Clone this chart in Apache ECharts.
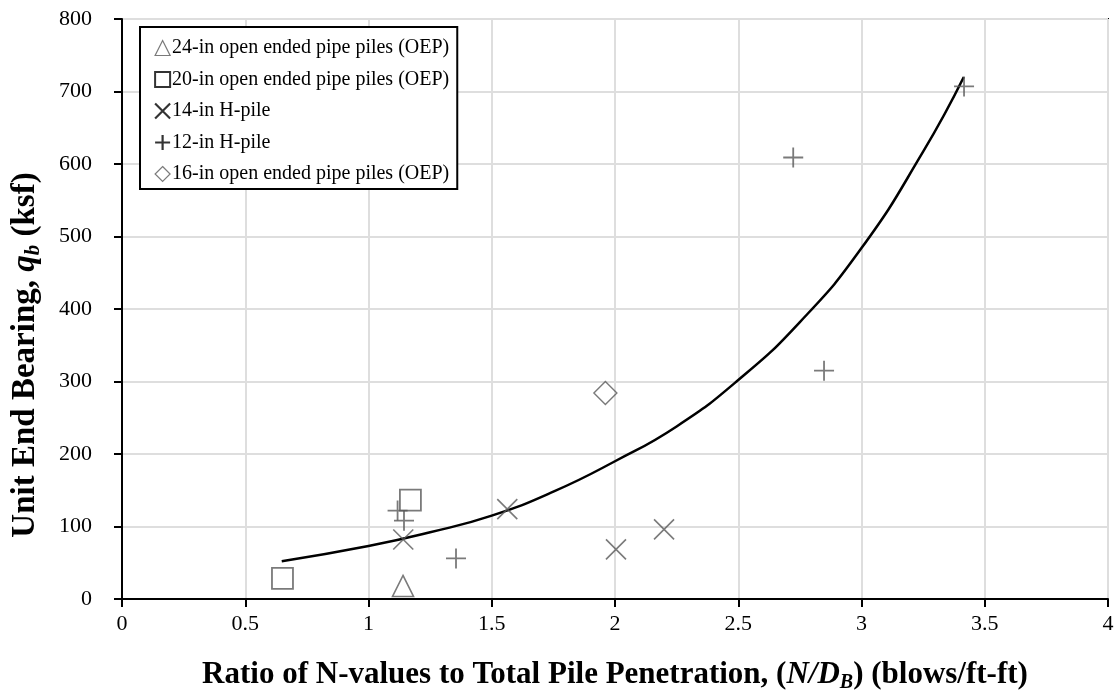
<!DOCTYPE html>
<html>
<head>
<meta charset="utf-8">
<script src="https://cdn.jsdelivr.net/npm/echarts@6/dist/echarts.min.js"></script>
<style>
  html, body { margin: 0; padding: 0; background: #fff; }
  #chart { width: 1119px; height: 695px; }
</style>
</head>
<body>
<div id="chart"></div>
<script>
// Unit end bearing vs. N/D_B ratio, by pile type
const oep24 = [[1.14, 18]];
const oep20 = [[0.651, 28.5], [1.17, 136.5]];
const hpile14 = [[1.141, 82], [1.563, 124], [2.004, 68.5], [2.199, 96]];
const hpile12 = [[1.118, 122], [1.144, 108], [1.355, 56], [2.723, 609], [2.848, 315], [3.416, 707]];
const oep16 = [[1.961, 284]];

// Trend curve, points
const trendX = [0.648, 1.0, 1.25, 1.5, 1.75, 2.0, 2.25, 2.5, 2.75, 3.0, 3.25, 3.415];
const trendY = [52, 73, 92, 115, 148, 190, 238, 302, 382, 484, 617, 720];

const xTicks = [0, 0.5, 1, 1.5, 2, 2.5, 3, 3.5, 4];
const yTicks = [0, 100, 200, 300, 400, 500, 600, 700, 800];

const seriesNames = [
  '24-in open ended pipe piles (OEP)',
  '20-in open ended pipe piles (OEP)',
  '14-in H-pile',
  '12-in H-pile',
  '16-in open ended pipe piles (OEP)'
];

const FONT = '"Liberation Serif", "Times New Roman", serif';
const MARK = '#595959';
const CROSS = 'path://M0,0L10,10M10,0L0,10';
const PLUS = 'path://M5,0L5,10M0,5L10,5';

function hollow(color, w) {
  return { color: 'transparent', borderColor: color, borderWidth: w };
}

function titleRich(size) {
  return {
    b: { fontFamily: FONT, fontSize: size, fontWeight: 'bold', color: '#000' },
    bi: { fontFamily: FONT, fontSize: size, fontWeight: 'bold', fontStyle: 'italic', color: '#000' },
    sub: { fontFamily: FONT, fontSize: Math.round(size * 0.65), fontWeight: 'bold', fontStyle: 'italic', color: '#000', padding: [Math.round(size * 0.5), 0, 0, 0] }
  };
}

const chart = echarts.init(document.getElementById('chart'), null, { renderer: 'canvas' });

chart.setOption({
  backgroundColor: '#fff',
  animation: false,
  grid: {
    left: 122, right: 11, top: 19, bottom: 96,
    outerBoundsMode: 'none',
    containLabel: false,
    show: true, borderColor: '#000', borderWidth: 2, backgroundColor: 'transparent'
  },
  legend: {
    orient: 'vertical',
    left: 140, top: 27,
    padding: [11, 8, 5, 14],
    itemGap: 11.5,
    itemWidth: 15, itemHeight: 15,
    borderColor: '#000', borderWidth: 2,
    backgroundColor: '#fff',
    textStyle: { fontFamily: FONT, fontSize: 20, color: '#000', padding: [0, 0, 0, -3] },
    data: [
      { name: seriesNames[0], icon: 'triangle', itemStyle: hollow('#595959', 1.2) },
      { name: seriesNames[1], icon: 'rect', itemStyle: hollow('#000', 2) },
      { name: seriesNames[2], icon: CROSS, itemStyle: hollow('#000', 2.2) },
      { name: seriesNames[3], icon: PLUS, itemStyle: hollow('#000', 2.2) },
      { name: seriesNames[4], icon: 'diamond', itemStyle: hollow('#595959', 1.2) }
    ]
  },
  xAxis: {
    type: 'value',
    min: xTicks[0], max: xTicks[xTicks.length - 1], interval: 0.5,
    name: '{b|Ratio of N-values to Total Pile Penetration, (}{bi|N/D}{sub|B}{b|) (blows/ft-ft)}',
    nameLocation: 'middle',
    nameGap: 58,
    nameTextStyle: { rich: titleRich(31) },
    axisLine: { onZero: false, lineStyle: { color: '#000', width: 2 } },
    axisTick: { show: true, inside: false, length: 8, lineStyle: { color: '#000', width: 2 } },
    axisLabel: { fontFamily: FONT, fontSize: 22, color: '#000', margin: 14 },
    splitLine: { show: true, lineStyle: { color: '#dedede', width: 2 } }
  },
  yAxis: {
    type: 'value',
    min: yTicks[0], max: yTicks[yTicks.length - 1], interval: 100,
    name: '{b|Unit End Bearing, }{bi|q}{sub|b}{b| (ksf)}',
    nameLocation: 'middle',
    nameGap: 78,
    nameRotate: 90,
    nameTextStyle: { rich: titleRich(33), padding: [0, 92, 0, 0] },
    axisLine: { show: true, onZero: false, lineStyle: { color: '#000', width: 2 } },
    axisTick: { show: true, inside: false, length: 8, lineStyle: { color: '#000', width: 2 } },
    axisLabel: { fontFamily: FONT, fontSize: 22, color: '#000', margin: 30 },
    splitLine: { show: true, lineStyle: { color: '#dedede', width: 2 } }
  },
  series: [
    {
      name: 'trend', type: 'line', smooth: true, showSymbol: false, silent: true,
      data: trendX.map((x, i) => [x, trendY[i]]),
      lineStyle: { color: '#000', width: 2.5 }, z: 3
    },
    { name: seriesNames[0], type: 'scatter', symbol: 'triangle', symbolSize: 21, data: oep24, itemStyle: hollow(MARK, 1.6), z: 4 },
    { name: seriesNames[1], type: 'scatter', symbol: 'rect', symbolSize: 21, data: oep20, itemStyle: hollow(MARK, 1.8), z: 4 },
    { name: seriesNames[2], type: 'scatter', symbol: CROSS, symbolSize: 20, data: hpile14, itemStyle: hollow(MARK, 1.6), z: 4 },
    { name: seriesNames[3], type: 'scatter', symbol: PLUS, symbolSize: 20, data: hpile12, itemStyle: hollow(MARK, 1.8), z: 4 },
    { name: seriesNames[4], type: 'scatter', symbol: 'diamond', symbolSize: 23, data: oep16, itemStyle: hollow(MARK, 1.4), z: 4 }
  ]
});
</script>
</body>
</html>
